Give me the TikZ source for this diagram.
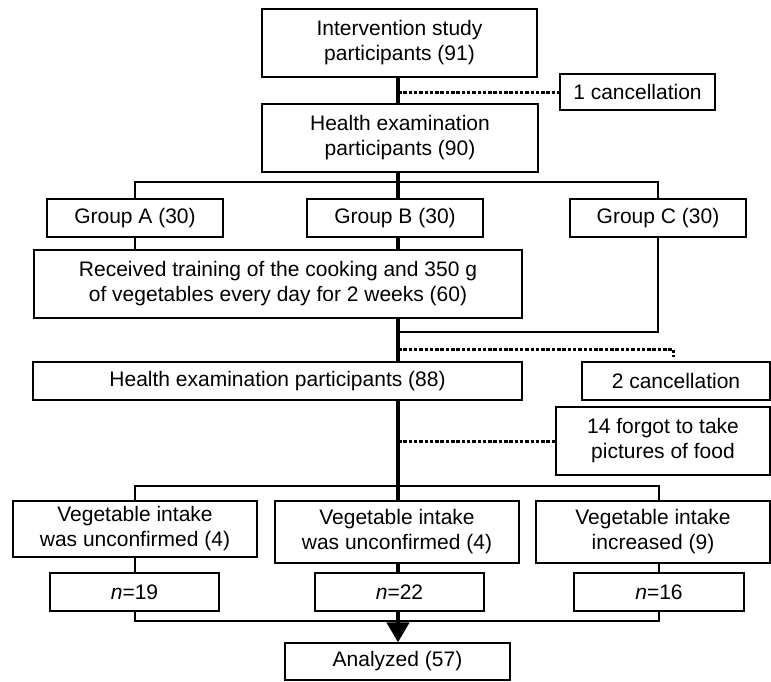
\documentclass[tikz,border=0pt]{standalone}
\usepackage{fontspec}
\setmainfont{Liberation Sans}
\usetikzlibrary{arrows.meta}
\begin{document}
\begin{tikzpicture}[
    x=1pt, y=-1pt,
    box/.style={draw, line width=1.3pt, rectangle, inner sep=2pt, align=center, font=\fontsize{21}{25}\selectfont},
    link/.style={line width=2pt},
    trunk/.style={line width=4.5pt},
    dots/.style={line width=3pt, dash pattern=on 3.5pt off 1.8pt}
]
\useasboundingbox (0,0) rectangle (771,681);
% Main line of the flow
\coordinate (top) at (398,0);
\coordinate (drop) at (673,349);
\coordinate (merge) at (398,332);
% Boxes
\node[box, minimum width=275pt, minimum height=68pt] (part) at (399.5,43) {Intervention study\\participants (91)};
\node[box, minimum width=155pt, minimum height=36pt] (cancelA) at (637.5,92) {1 cancellation};
\node[box, minimum width=276pt, minimum height=68pt] (exam1) at (400,138) {Health examination\\participants (90)};
\node[box, line width=2.2pt, minimum width=176pt, minimum height=38pt] (grpA) at (135,218) {Group A (30)};
\node[box, minimum width=176pt, minimum height=38pt] (grpB) at (395,218) {Group B (30)};
\node[box, minimum width=176pt, minimum height=38pt] (grpC) at (658,218) {Group C (30)};
\node[box, minimum width=488pt, minimum height=68pt] (train) at (278,284) {Received training of the cooking and 350 g\\of vegetables every day for 2 weeks (60)};
\node[box, minimum width=489pt, minimum height=38pt] (exam2) at (277.5,381) {Health examination participants (88)};
\node[box, minimum width=188pt, minimum height=38pt] (cancelB) at (676,381) {2 cancellation};
\node[box, minimum width=214pt, minimum height=68pt] (forgot) at (663,441) {14 forgot to take\\pictures of food};
\node[box, minimum width=244pt, minimum height=56pt] (vegA) at (135,529) {Vegetable intake\\was unconfirmed (4)};
\node[box, minimum width=244pt, minimum height=62pt] (vegB) at (397,532) {Vegetable intake\\was unconfirmed (4)};
\node[box, minimum width=234pt, minimum height=62pt] (vegC) at (653,532) {Vegetable intake\\increased (9)};
\node[box, minimum width=169pt, minimum height=38pt] (nA) at (134.5,592) {\textit{n}=19};
\node[box, minimum width=169pt, minimum height=38pt] (nB) at (399.5,592) {\textit{n}=22};
\node[box, minimum width=170pt, minimum height=38pt] (nC) at (659,592) {\textit{n}=16};
\node[box, minimum width=225pt, minimum height=37pt] (anal) at (397.5,661.5) {Analyzed (57)};
% Dotted exits
\draw[dots] (cancelA.west -| top) -- (cancelA.west);
\draw[dots] (drop -| top) -- (drop) -- ++(0,8);
\draw[dots] (forgot.west -| top) -- (forgot.west);
% Thin links
\draw[link] (grpA.north) -- ++(0,-16) -| (grpC.north);
\draw[link] (grpA.south) -- (grpA.south |- train.north);
\draw[link] (grpC.south) |- (merge);
\draw[link] (vegA.north -| nA) -- ++(0,-14) -| (vegC.north -| nC);
\draw[link] (vegA.south -| nA) -- (nA.north);
\draw[link] (vegC.south -| nC) -- (nC.north);
\draw[link] (nA.south) -- ++(0,9) -| (nC.south);
% Trunk
\draw[trunk] (part.south -| top) -- (exam1.north -| top);
\draw[trunk] (exam1.south -| top) -- (grpB.north -| top);
\draw[trunk] (grpB.south -| top) -- (train.north -| top);
\draw[trunk] (train.south -| top) -- (exam2.north -| top);
\draw[trunk] (exam2.south -| top) -- (vegB.north -| top);
\draw[trunk] (vegB.south -| top) -- (nB.north -| top);
\draw[trunk, -{Triangle[width=22pt,length=20pt]}] (nB.south -| top) -- (anal.north -| top);
\end{tikzpicture}
\end{document}
